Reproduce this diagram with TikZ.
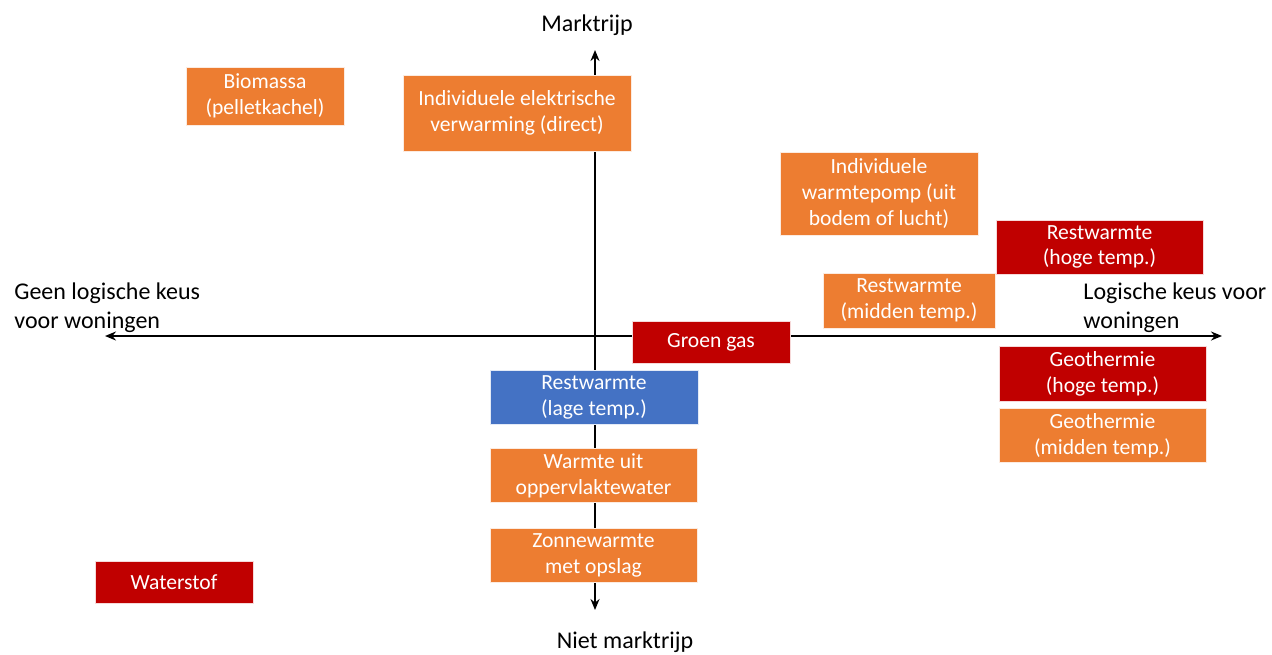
\documentclass[tikz,border=0pt]{standalone}
\usepackage{fontspec}
\setmainfont{Carlito}
\usetikzlibrary{arrows.meta}
\definecolor{oranje}{HTML}{ED7D31}
\definecolor{rood}{HTML}{C00000}
\definecolor{blauw}{HTML}{4472C4}
\tikzset{
  optie/.style={fill=#1, draw=white!85!#1, text=white, align=center,
                font=\fontsize{10.8}{12.8}\selectfont, inner sep=0pt},
  optie/.default=oranje,
  as/.style={line width=1pt, {Stealth[length=5.5pt,width=4.5pt]}-{Stealth[length=5.5pt,width=4.5pt]}},
  aslabel/.style={font=\fontsize{12}{14.5}\selectfont, inner sep=0pt}
}
\begin{document}
\begin{tikzpicture}[x=0.5pt, y=-0.5pt]
\useasboundingbox (0,0) rectangle (1272,654);
\def\xa{595} % vertical axis
\def\ya{336} % horizontal axis

% axes
\coordinate (links) at (105,\ya);
\coordinate (rechts) at (1222,\ya);
\coordinate (boven) at (\xa,50);
\coordinate (onder) at (\xa,610);
\draw [as] (links) -- (rechts);
\draw [as] (onder) -- (boven);

% axis labels
\node [aslabel] (mr) at (587,25) {Marktrijp};
\node [aslabel] (nmr) at (625,642) {Niet marktrijp};
\node [aslabel, align=left, anchor=west] (geen) at (14,308) {Geen logische keus\\voor woningen};
\node [aslabel, align=left, anchor=west] (wel) at (1083,308) {Logische keus voor\\woningen};

% options
\node [optie, minimum width=79pt, minimum height=29pt] (bio) at (265,96) {Biomassa\\(pelletkachel)};
\node [optie, minimum width=114pt, minimum height=38pt] (elek) at (517,113) {Individuele elektrische\\verwarming (direct)};
\node [optie, minimum width=99pt, minimum height=41.5pt] (wp) at (879,193.5) {Individuele\\warmtepomp (uit\\bodem of lucht)};
\node [optie=rood, minimum width=103.5pt, minimum height=27pt] (rwhoog) at (1099.5,247) {Restwarmte\\(hoge temp.)};
\node [optie, minimum width=86pt, minimum height=27.5pt] (rwmid) at (909,300.5) {Restwarmte\\(midden temp.)};
\node [optie=rood, minimum width=79pt, minimum height=21pt] (gas) at (711,342) {Groen gas};
\node [optie=rood, minimum width=103.5pt, minimum height=27.5pt] (geohoog) at (1102.5,374) {Geothermie\\(hoge temp.)};
\node [optie, minimum width=103.5pt, minimum height=27pt] (geomid) at (1102.5,435.5) {Geothermie\\(midden temp.)};
\node [optie=blauw, minimum width=104pt, minimum height=27pt] (rwlaag) at (594,397.5) {Restwarmte\\(lage temp.)};
\node [optie, minimum width=103.5pt, minimum height=27pt] (opp) at (593.5,475.5) {Warmte uit\\oppervlaktewater};
\node [optie, minimum width=103.5pt, minimum height=27pt] (zon) at (593.5,555.5) {Zonnewarmte\\met opslag};
\node [optie=rood, minimum width=79pt, minimum height=21pt] (h2) at (174,582.5) {Waterstof};

\end{tikzpicture}
\end{document}
